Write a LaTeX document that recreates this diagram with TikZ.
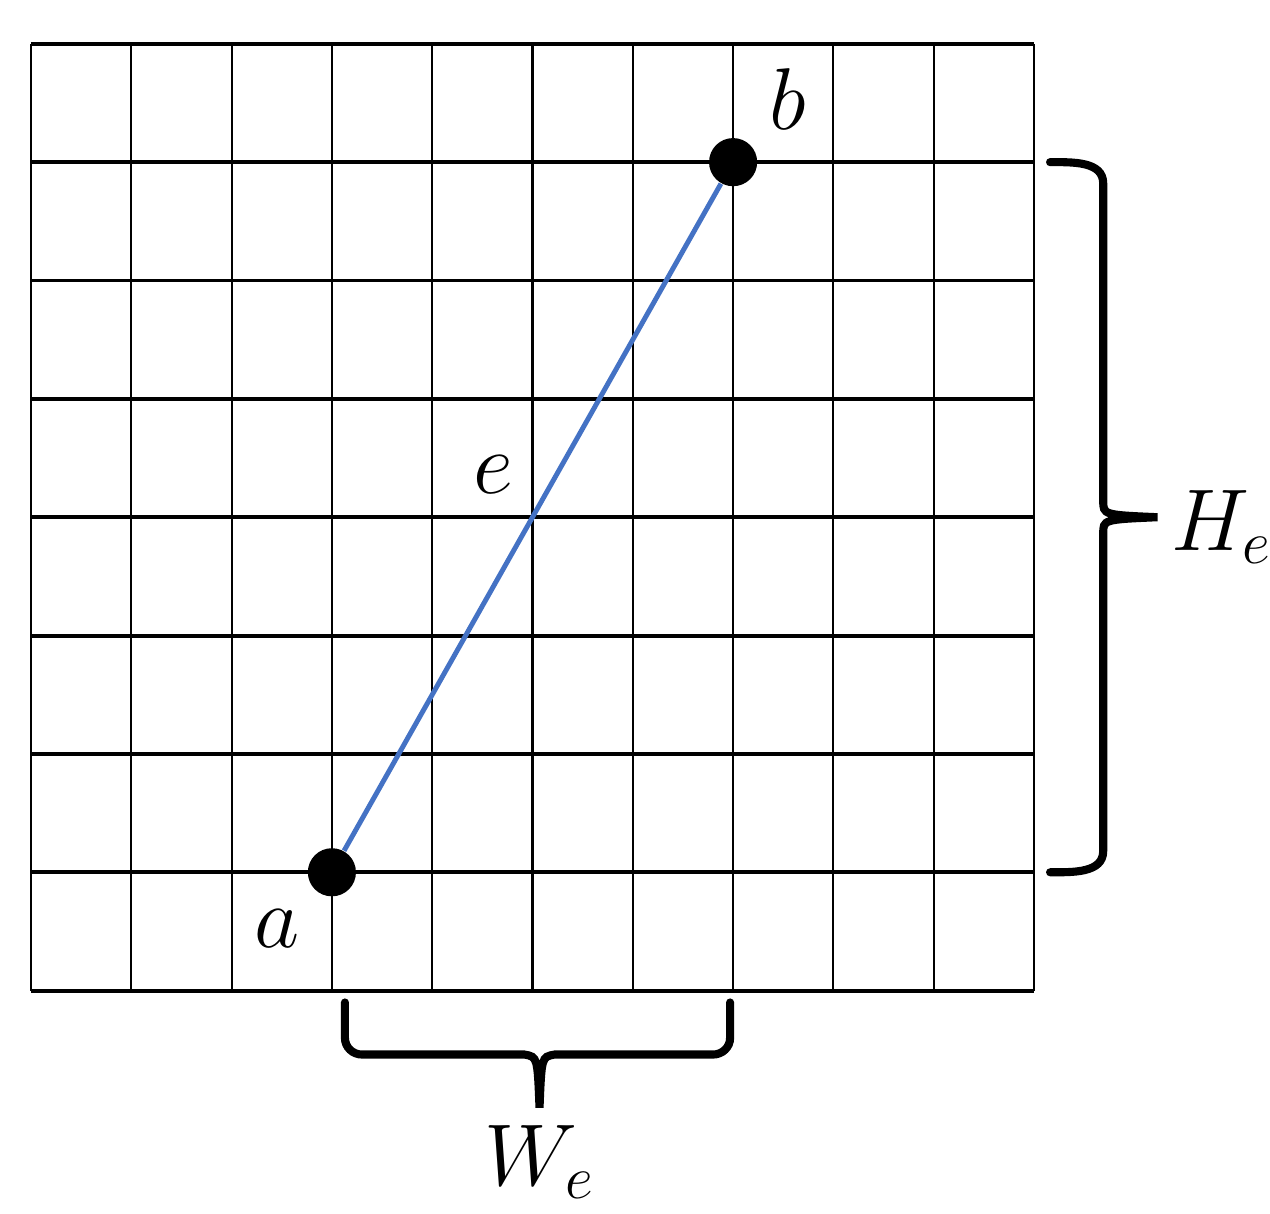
\documentclass[tikz,border=0pt]{standalone}
\usepackage{amsmath,amssymb}
\usepackage{tikz}
\usetikzlibrary{calc}
\definecolor{edgeblue}{RGB}{68,114,196}
\tikzset{vertex/.style={circle, fill=black, inner sep=0, minimum size=0.48cm}}
\tikzset{brace line/.style={line width=2.3pt, line cap=round}}
\tikzset{lbl/.style={font=\fontsize{27}{30}\selectfont}}

\begin{document}
\begin{tikzpicture}[x=1cm, y=1.18cm]
  \useasboundingbox (-0.309,-1.883) rectangle (12.353,8.37);

  % grid
  \foreach \i in {0,...,10}
    \draw[line width=0.6pt] (\i,0) -- (\i,8);
  \foreach \j in {0,...,8}
    \draw[line width=1.1pt] (0,\j) -- (10,\j);

  \node[vertex] at (3,1) (a) {};
  \node[vertex] at (7,7) (b) {};
  \draw[edgeblue, line width=1.4pt] (a) -- (b);

  \node[lbl] at (2.45,0.52) {$a$};
  \node[lbl] at (7.54,7.53) {$b$};
  \node[lbl] at (4.61,4.36) {$e$};

  % braces
  \draw[brace line] (10.16,7.0) to[out=0,in=90] (10.69,6.82) -- (10.69,4.14)
    .. controls (10.69,4.02) .. (11.23,4.0)
    .. controls (10.69,3.98) .. (10.69,3.86) -- (10.69,1.18)
    to[out=-90,in=0] (10.16,1.0);
  \node[lbl, font=\fontsize{24}{28}\selectfont, anchor=west, inner sep=0]
    at (11.36,3.92) {$H_e$};

  \draw[brace line] (3.13,-0.1) -- (3.13,-0.4) to[out=-90,in=180] (3.3,-0.54)
    -- (4.92,-0.54) .. controls (5.05,-0.56) .. (5.07,-0.99)
    .. controls (5.09,-0.56) .. (5.22,-0.54) -- (6.8,-0.54)
    to[out=0,in=-90] (6.97,-0.4) -- (6.97,-0.1);
  \node[lbl] at (5.07,-1.45) {$W_e$};
\end{tikzpicture}
\end{document}
